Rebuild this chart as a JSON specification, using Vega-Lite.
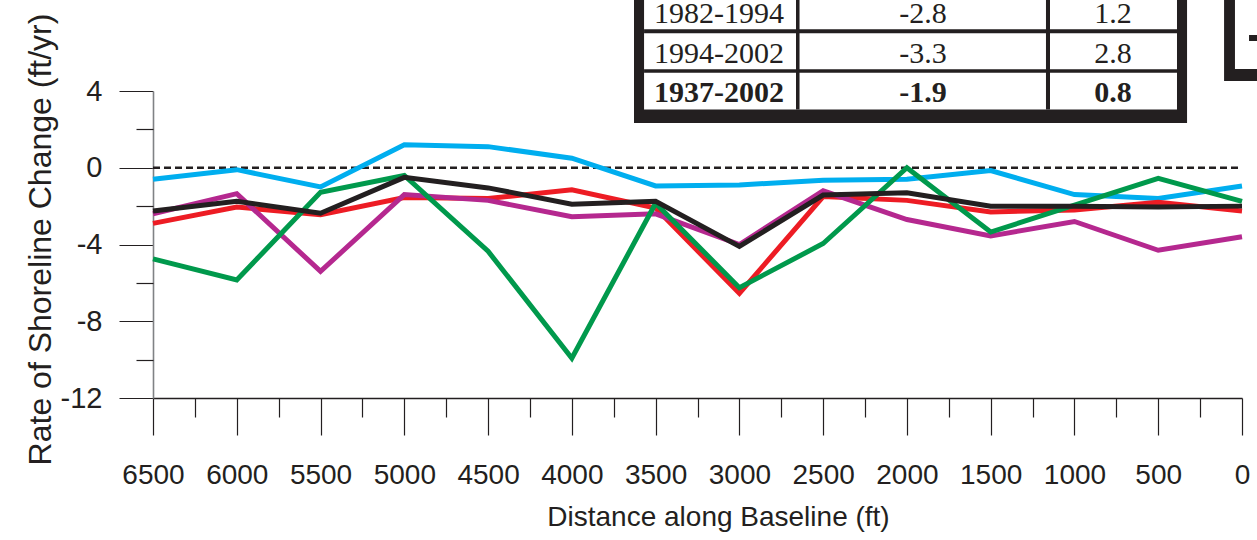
{
  "$schema": "https://vega.github.io/schema/vega-lite/v6.json",
  "width": 1089,
  "height": 307,
  "autosize": {"type": "none"},
  "padding": {"left": 153, "top": 91, "right": 15, "bottom": 142},
  "background": "white",
  "config": {"view": {"stroke": null}, "font": "Liberation Sans"},
  "datasets": {
    "shoreline": [
      {"dist": 6500, "series": "1937-1960", "rate": -0.6},
      {"dist": 6000, "series": "1937-1960", "rate": -0.1},
      {"dist": 5500, "series": "1937-1960", "rate": -1.0},
      {"dist": 5000, "series": "1937-1960", "rate": 1.2},
      {"dist": 4500, "series": "1937-1960", "rate": 1.1},
      {"dist": 4000, "series": "1937-1960", "rate": 0.5},
      {"dist": 3500, "series": "1937-1960", "rate": -0.95},
      {"dist": 3000, "series": "1937-1960", "rate": -0.9},
      {"dist": 2500, "series": "1937-1960", "rate": -0.65},
      {"dist": 2000, "series": "1937-1960", "rate": -0.6},
      {"dist": 1500, "series": "1937-1960", "rate": -0.15},
      {"dist": 1000, "series": "1937-1960", "rate": -1.4},
      {"dist": 500, "series": "1937-1960", "rate": -1.6},
      {"dist": 0, "series": "1937-1960", "rate": -0.95},
      {"dist": 6500, "series": "1960-1982", "rate": -2.9},
      {"dist": 6000, "series": "1960-1982", "rate": -2.05},
      {"dist": 5500, "series": "1960-1982", "rate": -2.45},
      {"dist": 5000, "series": "1960-1982", "rate": -1.55},
      {"dist": 4500, "series": "1960-1982", "rate": -1.6},
      {"dist": 4000, "series": "1960-1982", "rate": -1.15},
      {"dist": 3500, "series": "1960-1982", "rate": -2.1},
      {"dist": 3000, "series": "1960-1982", "rate": -6.55},
      {"dist": 2500, "series": "1960-1982", "rate": -1.5},
      {"dist": 2000, "series": "1960-1982", "rate": -1.7},
      {"dist": 1500, "series": "1960-1982", "rate": -2.3},
      {"dist": 1000, "series": "1960-1982", "rate": -2.2},
      {"dist": 500, "series": "1960-1982", "rate": -1.8},
      {"dist": 0, "series": "1960-1982", "rate": -2.25},
      {"dist": 6500, "series": "1982-1994", "rate": -2.4},
      {"dist": 6000, "series": "1982-1994", "rate": -1.35},
      {"dist": 5500, "series": "1982-1994", "rate": -5.4},
      {"dist": 5000, "series": "1982-1994", "rate": -1.4},
      {"dist": 4500, "series": "1982-1994", "rate": -1.7},
      {"dist": 4000, "series": "1982-1994", "rate": -2.55},
      {"dist": 3500, "series": "1982-1994", "rate": -2.4},
      {"dist": 3000, "series": "1982-1994", "rate": -4.0},
      {"dist": 2500, "series": "1982-1994", "rate": -1.2},
      {"dist": 2000, "series": "1982-1994", "rate": -2.7},
      {"dist": 1500, "series": "1982-1994", "rate": -3.55},
      {"dist": 1000, "series": "1982-1994", "rate": -2.8},
      {"dist": 500, "series": "1982-1994", "rate": -4.3},
      {"dist": 0, "series": "1982-1994", "rate": -3.6},
      {"dist": 6500, "series": "1994-2002", "rate": -4.75},
      {"dist": 6000, "series": "1994-2002", "rate": -5.85},
      {"dist": 5500, "series": "1994-2002", "rate": -1.28},
      {"dist": 5000, "series": "1994-2002", "rate": -0.4},
      {"dist": 4500, "series": "1994-2002", "rate": -4.35},
      {"dist": 4000, "series": "1994-2002", "rate": -9.93},
      {"dist": 3500, "series": "1994-2002", "rate": -1.85},
      {"dist": 3000, "series": "1994-2002", "rate": -6.25},
      {"dist": 2500, "series": "1994-2002", "rate": -3.95},
      {"dist": 2000, "series": "1994-2002", "rate": 0.0},
      {"dist": 1500, "series": "1994-2002", "rate": -3.35},
      {"dist": 1000, "series": "1994-2002", "rate": -1.95},
      {"dist": 500, "series": "1994-2002", "rate": -0.55},
      {"dist": 0, "series": "1994-2002", "rate": -1.75},
      {"dist": 6500, "series": "1937-2002", "rate": -2.25},
      {"dist": 6000, "series": "1937-2002", "rate": -1.75},
      {"dist": 5500, "series": "1937-2002", "rate": -2.37},
      {"dist": 5000, "series": "1937-2002", "rate": -0.5},
      {"dist": 4500, "series": "1937-2002", "rate": -1.05},
      {"dist": 4000, "series": "1937-2002", "rate": -1.9},
      {"dist": 3500, "series": "1937-2002", "rate": -1.75},
      {"dist": 3000, "series": "1937-2002", "rate": -4.1},
      {"dist": 2500, "series": "1937-2002", "rate": -1.42},
      {"dist": 2000, "series": "1937-2002", "rate": -1.3},
      {"dist": 1500, "series": "1937-2002", "rate": -2.0},
      {"dist": 1000, "series": "1937-2002", "rate": -2.0},
      {"dist": 500, "series": "1937-2002", "rate": -2.05},
      {"dist": 0, "series": "1937-2002", "rate": -2.0}
    ],
    "table": [
      {"period": "1982-1994", "mean": "-2.8", "sd": "1.2"},
      {"period": "1994-2002", "mean": "-3.3", "sd": "2.8"},
      {"period": "1937-2002", "mean": "-1.9", "sd": "0.8"}
    ]
  },
  "resolve": {"axis": {"x": "independent", "y": "independent"}},
  "layer": [
    {
      "layer": [
        {
          "data": {"values": [{}]},
          "mark": {"type": "rule", "strokeDash": [7, 4], "strokeWidth": 2.5, "color": "#231F20"},
          "encoding": {
            "x": {"datum": 6500, "type": "quantitative"},
            "x2": {"datum": 0},
            "y": {"datum": 0, "type": "quantitative"}
          }
        },
        {
          "data": {"name": "shoreline"},
          "mark": {"type": "line", "strokeJoin": "miter", "strokeCap": "butt"},
          "encoding": {
            "x": {
              "field": "dist", "type": "quantitative",
              "scale": {"domain": [0, 6500], "reverse": true, "nice": false, "zero": false},
              "axis": {
                "orient": "bottom",
                "values": [0, 500, 1000, 1500, 2000, 2500, 3000, 3500, 4000, 4500, 5000, 5500, 6000, 6500],
                "tickSize": 37, "tickWidth": 1.2, "tickColor": "#231F20",
                "domainColor": "#231F20", "domainWidth": 1.3,
                "labelFont": "Liberation Sans", "labelFontSize": 28, "labelColor": "#231F20",
                "labelPadding": 26, "labelFlush": false, "labelOverlap": false,
                "labelExpr": "'' + datum.value",
                "grid": false,
                "title": "Distance along Baseline (ft)",
                "titleFont": "Liberation Sans", "titleFontSize": 28, "titleFontWeight": "normal",
                "titleColor": "#231F20", "titleX": 565, "titleY": 105, "titleBaseline": "top", "titleAlign": "center"
              }
            },
            "y": {
              "field": "rate", "type": "quantitative",
              "scale": {"domain": [-12, 4], "nice": false, "zero": false},
              "axis": {
                "orient": "left",
                "values": [-12, -8, -4, 0, 4],
                "tickSize": 34, "tickWidth": 1.2, "tickColor": "#231F20",
                "domainColor": "#808285", "domainWidth": 1.6,
                "labelFont": "Liberation Sans", "labelFontSize": 29, "labelColor": "#231F20",
                "labelPadding": 17, "labelFlush": false, "labelOverlap": false,
                "labelExpr": "'' + datum.value",
                "grid": false,
                "title": "Rate of Shoreline Change (ft/yr)",
                "titleFont": "Liberation Sans", "titleFontSize": 32, "titleFontWeight": "normal",
                "titleColor": "#231F20", "titleAngle": -90, "titleX": -103, "titleY": 148,
                "titleBaseline": "alphabetic", "titleAlign": "center"
              }
            },
            "color": {
              "field": "series", "type": "nominal",
              "scale": {
                "domain": ["1937-1960", "1960-1982", "1982-1994", "1994-2002", "1937-2002"],
                "range": ["#00AEEF", "#ED1C24", "#B5288F", "#00994C", "#231F20"]
              },
              "legend": null
            },
            "strokeWidth": {
              "field": "series", "type": "nominal",
              "scale": {
                "domain": ["1937-1960", "1960-1982", "1982-1994", "1994-2002", "1937-2002"],
                "range": [5, 5, 5, 5, 6]
              },
              "legend": null
            }
          }
        },
        {
          "data": {"values": [{}]},
          "mark": {"type": "rect", "color": "#231F20"},
          "encoding": {
            "x": {"datum": 3629, "type": "quantitative"}, "x2": {"datum": 328},
            "y": {"datum": 10, "type": "quantitative"}, "y2": {"datum": 2.332}
          }
        },
        {
          "data": {"values": [{}]},
          "mark": {"type": "rect", "color": "white"},
          "encoding": {
            "x": {"datum": 3569, "type": "quantitative"}, "x2": {"datum": 388},
            "y": {"datum": 10, "type": "quantitative"}, "y2": {"datum": 3.036}
          }
        },
        {
          "data": {"values": [{}]},
          "mark": {"type": "rect", "color": "#231F20"},
          "encoding": {
            "x": {"datum": 3569, "type": "quantitative"}, "x2": {"datum": 388},
            "y": {"datum": 7.215, "type": "quantitative"}, "y2": {"datum": 7.007}
          }
        },
        {
          "data": {"values": [{}]},
          "mark": {"type": "rect", "color": "#231F20"},
          "encoding": {
            "x": {"datum": 3569, "type": "quantitative"}, "x2": {"datum": 388},
            "y": {"datum": 5.131, "type": "quantitative"}, "y2": {"datum": 4.954}
          }
        },
        {
          "data": {"values": [{}]},
          "mark": {"type": "rect", "color": "#231F20"},
          "encoding": {
            "x": {"datum": 2662, "type": "quantitative"}, "x2": {"datum": 2641},
            "y": {"datum": 10, "type": "quantitative"}, "y2": {"datum": 3.036}
          }
        },
        {
          "data": {"values": [{}]},
          "mark": {"type": "rect", "color": "#231F20"},
          "encoding": {
            "x": {"datum": 1170, "type": "quantitative"}, "x2": {"datum": 1146},
            "y": {"datum": 10, "type": "quantitative"}, "y2": {"datum": 3.036}
          }
        },
        {
          "data": {"values": [{}]},
          "mark": {"type": "rect", "color": "#231F20"},
          "encoding": {
            "x": {"datum": 107, "type": "quantitative"}, "x2": {"datum": -300},
            "y": {"datum": 10, "type": "quantitative"}, "y2": {"datum": 4.521}
          }
        },
        {
          "data": {"values": [{}]},
          "mark": {"type": "rect", "color": "white"},
          "encoding": {
            "x": {"datum": 42, "type": "quantitative"}, "x2": {"datum": -300},
            "y": {"datum": 10, "type": "quantitative"}, "y2": {"datum": 5.146}
          }
        },
        {
          "data": {"values": [{}]},
          "mark": {"type": "rect", "color": "#231F20"},
          "encoding": {
            "x": {"datum": -42, "type": "quantitative"}, "x2": {"datum": -300},
            "y": {"datum": 6.918, "type": "quantitative"}, "y2": {"datum": 6.606}
          }
        },
        {
          "data": {"name": "table"},
          "transform": [{"filter": "datum.period === '1982-1994'"}],
          "mark": {"type": "text", "font": "Liberation Serif", "fontSize": 30, "color": "#231F20", "align": "center", "baseline": "alphabetic"},
          "encoding": {"x": {"datum": 3122, "type": "quantitative"}, "y": {"datum": 7.544, "type": "quantitative"}, "text": {"field": "period"}}
        },
        {
          "data": {"name": "table"},
          "transform": [{"filter": "datum.period === '1982-1994'"}],
          "mark": {"type": "text", "font": "Liberation Serif", "fontSize": 30, "color": "#231F20", "align": "center", "baseline": "alphabetic"},
          "encoding": {"x": {"datum": 1904, "type": "quantitative"}, "y": {"datum": 7.544, "type": "quantitative"}, "text": {"field": "mean"}}
        },
        {
          "data": {"name": "table"},
          "transform": [{"filter": "datum.period === '1982-1994'"}],
          "mark": {"type": "text", "font": "Liberation Serif", "fontSize": 30, "color": "#231F20", "align": "center", "baseline": "alphabetic"},
          "encoding": {"x": {"datum": 770, "type": "quantitative"}, "y": {"datum": 7.544, "type": "quantitative"}, "text": {"field": "sd"}}
        },
        {
          "data": {"name": "table"},
          "transform": [{"filter": "datum.period === '1994-2002'"}],
          "mark": {"type": "text", "font": "Liberation Serif", "fontSize": 30, "color": "#231F20", "align": "center", "baseline": "alphabetic"},
          "encoding": {"x": {"datum": 3122, "type": "quantitative"}, "y": {"datum": 5.459, "type": "quantitative"}, "text": {"field": "period"}}
        },
        {
          "data": {"name": "table"},
          "transform": [{"filter": "datum.period === '1994-2002'"}],
          "mark": {"type": "text", "font": "Liberation Serif", "fontSize": 30, "color": "#231F20", "align": "center", "baseline": "alphabetic"},
          "encoding": {"x": {"datum": 1904, "type": "quantitative"}, "y": {"datum": 5.459, "type": "quantitative"}, "text": {"field": "mean"}}
        },
        {
          "data": {"name": "table"},
          "transform": [{"filter": "datum.period === '1994-2002'"}],
          "mark": {"type": "text", "font": "Liberation Serif", "fontSize": 30, "color": "#231F20", "align": "center", "baseline": "alphabetic"},
          "encoding": {"x": {"datum": 770, "type": "quantitative"}, "y": {"datum": 5.459, "type": "quantitative"}, "text": {"field": "sd"}}
        },
        {
          "data": {"name": "table"},
          "transform": [{"filter": "datum.period === '1937-2002'"}],
          "mark": {"type": "text", "font": "Liberation Serif", "fontSize": 30, "fontWeight": "bold", "color": "#231F20", "align": "center", "baseline": "alphabetic"},
          "encoding": {"x": {"datum": 3122, "type": "quantitative"}, "y": {"datum": 3.427, "type": "quantitative"}, "text": {"field": "period"}}
        },
        {
          "data": {"name": "table"},
          "transform": [{"filter": "datum.period === '1937-2002'"}],
          "mark": {"type": "text", "font": "Liberation Serif", "fontSize": 30, "fontWeight": "bold", "color": "#231F20", "align": "center", "baseline": "alphabetic"},
          "encoding": {"x": {"datum": 1904, "type": "quantitative"}, "y": {"datum": 3.427, "type": "quantitative"}, "text": {"field": "mean"}}
        },
        {
          "data": {"name": "table"},
          "transform": [{"filter": "datum.period === '1937-2002'"}],
          "mark": {"type": "text", "font": "Liberation Serif", "fontSize": 30, "fontWeight": "bold", "color": "#231F20", "align": "center", "baseline": "alphabetic"},
          "encoding": {"x": {"datum": 770, "type": "quantitative"}, "y": {"datum": 3.427, "type": "quantitative"}, "text": {"field": "sd"}}
        }
      ]
    },
    {
      "data": {"values": [{}]},
      "mark": {"type": "point", "opacity": 0},
      "encoding": {
        "x": {
          "datum": 3000, "type": "quantitative",
          "scale": {"domain": [0, 6500], "reverse": true, "nice": false, "zero": false},
          "axis": {
            "orient": "bottom",
            "values": [250, 750, 1250, 1750, 2250, 2750, 3250, 3750, 4250, 4750, 5250, 5750, 6250],
            "tickSize": 19, "tickWidth": 1.2, "tickColor": "#231F20",
            "domain": false, "labels": false, "grid": false, "title": null
          }
        },
        "y": {
          "datum": 0, "type": "quantitative",
          "scale": {"domain": [-12, 4], "nice": false, "zero": false},
          "axis": {
            "orient": "left",
            "values": [-10, -6, -2, 2],
            "tickSize": 17, "tickWidth": 1.2, "tickColor": "#231F20",
            "domain": false, "labels": false, "grid": false, "title": null
          }
        }
      }
    }
  ]
}
